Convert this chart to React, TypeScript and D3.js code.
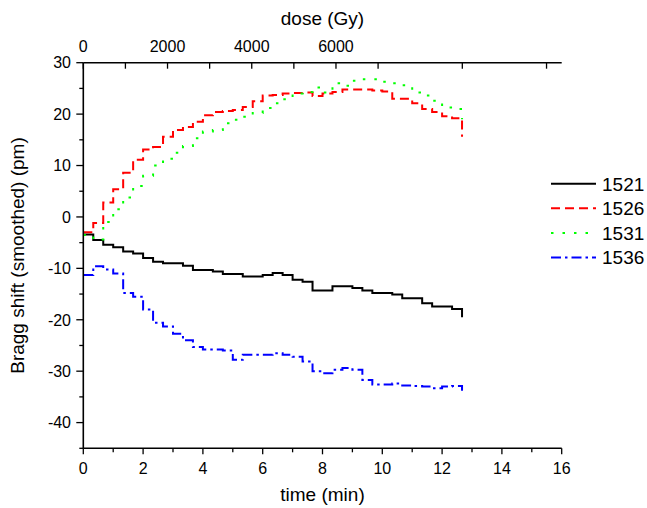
import React from "react";
import * as d3 from "d3";

// sample index (20 s steps), time = i/3 min
const sampleCount = 39;
const times: number[] = Array.from({ length: sampleCount }, (_, i) => i / 3);

const s1521: number[] = [
  -3.4, -4.5, -5.4, -5.9, -6.7, -7.1, -8.0, -8.7, -9.0, -9.0,
  -9.5, -10.3, -10.3, -10.6, -11.1, -11.1, -11.6, -11.6, -11.3, -10.9,
  -11.3, -12.2, -12.6, -14.3, -14.3, -13.5, -13.5, -13.8, -14.3, -14.8,
  -14.8, -15.1, -15.8, -15.8, -16.8, -17.4, -17.4, -17.9, -19.5,
];
const s1526: number[] = [
  -3.0, -1.2, 2.8, 5.4, 8.6, 11.1, 13.1, 13.6, 15.6, 16.9,
  17.5, 18.5, 19.8, 20.4, 20.6, 20.8, 21.4, 22.5, 23.6, 23.7,
  24.0, 24.1, 24.2, 23.5, 24.0, 24.3, 24.8, 24.8, 24.8, 24.6,
  24.4, 23.0, 23.0, 22.1, 21.0, 20.4, 19.6, 19.2, 15.6,
];
const s1531: number[] = [
  -3.5, -4.4, -1.0, 1.5, 3.8, 6.0, 8.0, 10.0, 11.3, 12.5,
  13.8, 15.3, 16.6, 16.9, 18.2, 18.9, 19.5, 20.2, 21.2, 22.1,
  22.9, 24.0, 24.3, 25.2, 24.2, 26.0, 25.5, 26.5, 26.8, 26.8,
  26.3, 26.0, 25.6, 24.2, 23.6, 22.6, 21.3, 21.0, 19.0,
];
const s1536: number[] = [
  -11.3, -9.6, -10.2, -11.0, -14.8, -15.5, -18.0, -20.6, -21.3, -22.7,
  -24.0, -25.3, -25.8, -25.8, -26.0, -27.8, -26.8, -26.8, -26.8, -26.5,
  -26.8, -27.2, -28.1, -30.0, -30.4, -29.7, -29.4, -29.7, -31.7, -32.6,
  -32.6, -32.4, -32.8, -32.9, -33.0, -33.3, -33.0, -32.9, -33.8,
];

const seriesNames = ["1521", "1526", "1531", "1536"];
const seriesValues = [s1521, s1526, s1531, s1536];
const seriesColors = ["#000000", "#ff0000", "#00ff00", "#0000ff"];
const seriesDash = ["none", "9,5", "2.5,9", "10,4,2.5,4"];

const timeTicks = d3.range(0, 17, 1);
const timeLabels = [0, 2, 4, 6, 8, 10, 12, 14, 16];
const shiftTicks = d3.range(-45, 31, 5);
const shiftLabels = [-40, -30, -20, -10, 0, 10, 20, 30];
const doseTicks = [0, 1000, 2000, 3000, 4000, 5000, 6000, 7000, 9000, 11000];
const doseLabels = [0, 2000, 4000, 6000];

const W = 647;
const H = 508;
const L = 83.3;
const R = 561.7;
const T = 62.7;
const B = 448.3;
const FONT = "'Liberation Sans', Arial, sans-serif";

export default function App() {
  const x = d3.scaleLinear().domain([0, 16]).range([L, R]);
  const xDose = d3.scaleLinear().domain([0, 11360]).range([L, R]);
  const y = d3.scaleLinear().domain([-45, 30]).range([B, T]);

  const line = d3
    .line<number>()
    .x((_, i) => x(times[i]))
    .y((v) => y(v))
    .curve(d3.curveStepAfter);

  const axisStroke = "#000";
  const axisW = 1.6;

  return (
    <svg
      width={W}
      height={H}
      style={{ position: "absolute", left: 0, top: 0, background: "#fff" }}
      fontFamily={FONT}
    >
      <rect x={0} y={0} width={W} height={H} fill="#fff" />
      {/* series */}
      {seriesValues.map((vals, k) => (
        <path
          key={seriesNames[k]}
          d={line(vals) || ""}
          fill="none"
          stroke={seriesColors[k]}
          strokeWidth={2}
          strokeDasharray={seriesDash[k]}
        />
      ))}

      {/* bottom axis */}
      <line x1={L} x2={R} y1={B} y2={B} stroke={axisStroke} strokeWidth={axisW} />
      {timeTicks.map((t) => {
        const major = t % 2 === 0;
        return (
          <line
            key={"bt" + t}
            x1={x(t)}
            x2={x(t)}
            y1={B}
            y2={B + (major ? 6 : 4)}
            stroke={axisStroke}
            strokeWidth={1.3}
          />
        );
      })}
      {timeLabels.map((t) => (
        <text key={"bl" + t} x={x(t)} y={474} fontSize={16} textAnchor="middle" fill="#000">
          {t}
        </text>
      ))}
      <text x={(L + R) / 2} y={501} fontSize={19} textAnchor="middle" fill="#000">
        time (min)
      </text>

      {/* left axis */}
      <line x1={L} x2={L} y1={T} y2={B} stroke={axisStroke} strokeWidth={axisW} />
      {shiftTicks.map((v) => {
        const major = v % 10 === 0;
        return (
          <line
            key={"lt" + v}
            x1={L - (major ? 7 : 4)}
            x2={L}
            y1={y(v)}
            y2={y(v)}
            stroke={axisStroke}
            strokeWidth={1.3}
          />
        );
      })}
      {shiftLabels.map((v) => (
        <text
          key={"ll" + v}
          x={71}
          y={y(v)}
          dy="0.36em"
          fontSize={16}
          textAnchor="end"
          fill="#000"
        >
          {v}
        </text>
      ))}
      <text
        transform={`translate(24, ${(T + B) / 2}) rotate(-90)`}
        fontSize={19}
        textAnchor="middle"
        fill="#000"
      >
        Bragg shift (smoothed) (pm)
      </text>

      {/* top axis */}
      <line x1={L} x2={R} y1={T} y2={T} stroke={axisStroke} strokeWidth={axisW} />
      {doseTicks.map((d) => (
        <line
          key={"tt" + d}
          x1={xDose(d)}
          x2={xDose(d)}
          y1={T}
          y2={T + 6}
          stroke={axisStroke}
          strokeWidth={1.3}
        />
      ))}
      {doseLabels.map((d) => (
        <text key={"tl" + d} x={xDose(d)} y={51.5} fontSize={16} textAnchor="middle" fill="#000">
          {d}
        </text>
      ))}
      <text x={(L + R) / 2} y={25} fontSize={19} textAnchor="middle" fill="#000">
        dose (Gy)
      </text>

      {/* legend */}
      {seriesNames.map((n, k) => {
        const ly = 183.7 + k * 24.6;
        return (
          <g key={"lg" + n}>
            <line
              x1={551}
              x2={596}
              y1={ly}
              y2={ly}
              stroke={seriesColors[k]}
              strokeWidth={2}
              strokeDasharray={seriesDash[k]}
            />
            <text x={602} y={ly} dy="0.36em" fontSize={19} fill="#000">
              {n}
            </text>
          </g>
        );
      })}
    </svg>
  );
}
